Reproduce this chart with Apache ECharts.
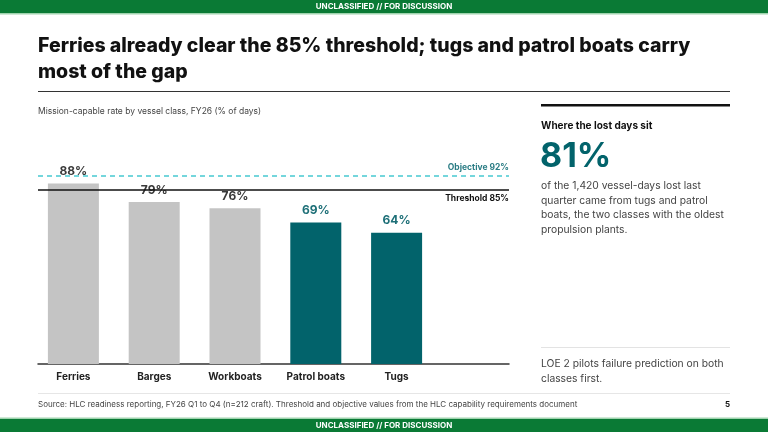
<!DOCTYPE html>
<html lang="en">
<head>
    <meta charset="UTF-8">
    <title>Mission-capable rate by vessel class</title>
    <script src="https://cdn.jsdelivr.net/npm/echarts@6/dist/echarts.min.js"></script>
    <style>
        html, body { margin: 0; padding: 0; background: #fff; }
        #chart { width: 768px; height: 432px; }
    </style>
</head>
<body>
<div id="chart"></div>
<script type="text/javascript">
    // data
    let categories = ['Ferries', 'Barges', 'Workboats', 'Patrol boats', 'Tugs'];
    let rates = [88, 79, 76, 69, 64];
    let focusClasses = ['Patrol boats', 'Tugs'];
    let threshold = 85;
    let objective = 92;

    const TEAL = '#02636b';
    const GREY = '#c4c4c4';
    const FONT = 'Inter, "Noto Sans", sans-serif';

    let barData = rates.map(function (v, i) {
        let focus = focusClasses.indexOf(categories[i]) >= 0;
        return {
            value: v,
            itemStyle: { color: focus ? TEAL : GREY },
            label: { color: focus ? '#1d6f77' : '#3a3a3a' }
        };
    });

    let myChart = echarts.init(document.getElementById('chart'), null, { renderer: 'canvas' });

    let banner = function (y) {
        return {
            type: 'text', x: 384, y: y,
            style: {
                text: 'UNCLASSIFIED // FOR DISCUSSION', fill: '#fff', font: 'bold 8px ' + FONT,
                align: 'center', verticalAlign: 'middle', letterSpacing: 0.3
            }
        };
    };

    let option = {
        animation: false,
        textStyle: { fontFamily: FONT },
        grid: [
            { left: 33, top: 159, width: 404, height: 205 },
            { left: 38, top: 159, width: 471, height: 205 }
        ],
        xAxis: [
            {
                type: 'category', gridIndex: 0, data: categories,
                axisLine: { show: false }, axisTick: { show: false },
                axisLabel: { color: '#222', fontSize: 10, fontWeight: 'bold', margin: 8, fontFamily: FONT }
            },
            {
                type: 'value', gridIndex: 1, min: 0, max: 1,
                axisLine: { show: true, lineStyle: { color: '#333', width: 1.5 } },
                axisTick: { show: false }, axisLabel: { show: false }, splitLine: { show: false }
            }
        ],
        yAxis: [
            { type: 'value', gridIndex: 0, min: 0, max: 100, show: false },
            { type: 'value', gridIndex: 1, min: 0, max: 100, show: false }
        ],
        series: [
            {
                type: 'line', xAxisIndex: 1, yAxisIndex: 1, z: 1,
                data: [], symbol: 'none', silent: true,
                markLine: {
                    silent: true, symbol: 'none',
                    data: [
                        {
                            yAxis: objective,
                            lineStyle: { color: '#47c9d1', type: [5, 4], width: 1.5 },
                            label: {
                                position: 'insideEndTop', formatter: 'Objective ' + objective + '%',
                                color: '#2a7c84', fontSize: 8.5, fontWeight: 'bold', distance: [0, 3], fontFamily: FONT
                            }
                        },
                        {
                            yAxis: threshold,
                            lineStyle: { color: '#111', type: 'solid', width: 1.5 },
                            label: {
                                position: 'insideEndBottom', formatter: 'Threshold ' + threshold + '%',
                                color: '#111', fontSize: 8.5, fontWeight: 'bold', distance: [0, 4], fontFamily: FONT
                            }
                        }
                    ]
                }
            },
            {
                type: 'bar', xAxisIndex: 0, yAxisIndex: 0, z: 3,
                barWidth: 51,
                data: barData,
                label: {
                    show: true, position: 'top', distance: 5,
                    formatter: '{c}%', fontSize: 12, fontWeight: 'bold', fontFamily: FONT,
                    backgroundColor: '#fff', padding: [1, 5]
                }
            }
        ],
        graphic: [
            // banners
            { type: 'rect', left: 0, top: 0, shape: { width: 768, height: 13 }, style: { fill: '#0a7a35' } },
            { type: 'rect', left: 0, top: 13, shape: { width: 768, height: 1.5 }, style: { fill: '#9fd3ae' } },
            banner(6.5),
            { type: 'rect', left: 0, top: 419, shape: { width: 768, height: 13 }, style: { fill: '#0a7a35' } },
            { type: 'rect', left: 0, top: 417.5, shape: { width: 768, height: 1.5 }, style: { fill: '#9fd3ae' } },
            banner(425.5),
            // title
            {
                type: 'text', x: 38, y: 33,
                style: {
                    text: 'Ferries already clear the 85% threshold; tugs and patrol boats carry\nmost of the gap',
                    fill: '#111', font: '800 19.5px ' + FONT, lineHeight: 26, verticalAlign: 'top'
                }
            },
            { type: 'rect', left: 38, top: 91, shape: { width: 692, height: 1 }, style: { fill: '#333' } },
            {
                type: 'text', x: 38, y: 111,
                style: { text: 'Mission-capable rate by vessel class, FY26 (% of days)', fill: '#444', font: '8.5px ' + FONT, verticalAlign: 'middle' }
            },
            // right panel
            { type: 'rect', left: 541, top: 104, shape: { width: 189, height: 2.5 }, style: { fill: '#111' } },
            {
                type: 'text', x: 541, y: 126,
                style: { text: 'Where the lost days sit', fill: '#111', font: 'bold 10px ' + FONT, verticalAlign: 'middle' }
            },
            {
                type: 'text', x: 540, y: 157,
                style: { text: '81%', fill: TEAL, font: 'bold 34px ' + FONT, verticalAlign: 'middle' }
            },
            {
                type: 'text', x: 541, y: 179,
                style: {
                    text: 'of the 1,420 vessel-days lost last\nquarter came from tugs and patrol\nboats, the two classes with the oldest\npropulsion plants.',
                    fill: '#444', font: '10.3px ' + FONT, lineHeight: 14.5, verticalAlign: 'top'
                }
            },
            { type: 'rect', left: 541, top: 347, shape: { width: 189, height: 1 }, style: { fill: '#e3e3e3' } },
            {
                type: 'text', x: 541, y: 357,
                style: {
                    text: 'LOE 2 pilots failure prediction on both\nclasses first.',
                    fill: '#444', font: '10.3px ' + FONT, lineHeight: 14.5, verticalAlign: 'top'
                }
            },
            // footer
            { type: 'rect', left: 38, top: 393, shape: { width: 692, height: 1 }, style: { fill: '#e6e6e6' } },
            {
                type: 'text', x: 38, y: 405,
                style: {
                    text: 'Source: HLC readiness reporting, FY26 Q1 to Q4 (n=212 craft). Threshold and objective values from the HLC capability requirements document',
                    fill: '#444', font: '8px ' + FONT, verticalAlign: 'middle'
                }
            },
            {
                type: 'text', x: 730, y: 405,
                style: { text: '5', fill: '#111', font: 'bold 8px ' + FONT, align: 'right', verticalAlign: 'middle' }
            }
        ]
    };

    myChart.setOption(option);
</script>
</body>
</html>
